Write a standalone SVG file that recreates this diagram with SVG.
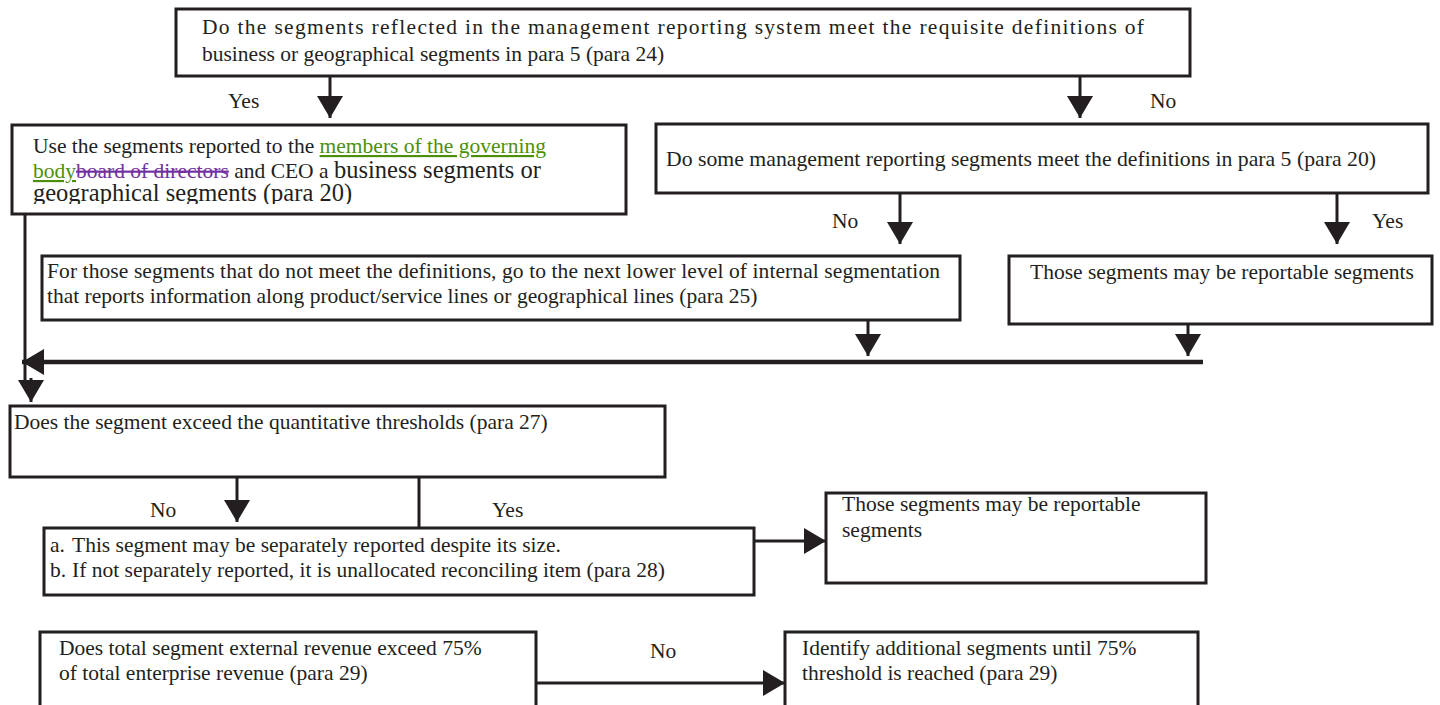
<svg xmlns="http://www.w3.org/2000/svg" width="1440" height="705" viewBox="0 0 1440 705">
<style>
.box{fill:#fff;stroke:#231f20;stroke-width:3}
.t{font-family:"Liberation Serif","Times New Roman",serif;font-size:21.5px;fill:#231f20}
.big{font-size:24.5px}
.c{stroke:#231f20;stroke-width:3;fill:none}
.thick{stroke:#231f20;stroke-width:4.5;fill:none}
.ins{fill:#4e8f0a;text-decoration:underline}
.del{fill:#7030a0;text-decoration:line-through}
</style>
<defs>
<marker id="ah" markerUnits="userSpaceOnUse" markerWidth="24" markerHeight="26" refX="22" refY="13" orient="auto"><path d="M0,0 L22,13 L0,26 z" fill="#231f20"/></marker>
<clipPath id="clip2"><rect x="14" y="127" width="610" height="77"/></clipPath>
</defs>
<g id="connectors">
<line class="c" x1="330" y1="76" x2="330" y2="118" marker-end="url(#ah)"/>
<line class="c" x1="1080" y1="76" x2="1080" y2="118" marker-end="url(#ah)"/>
<line class="c" x1="900" y1="193" x2="900" y2="244" marker-end="url(#ah)"/>
<line class="c" x1="1337" y1="193" x2="1337" y2="244" marker-end="url(#ah)"/>
<line class="c" x1="868" y1="320" x2="868" y2="356" marker-end="url(#ah)"/>
<line class="c" x1="1188" y1="324" x2="1188" y2="356" marker-end="url(#ah)"/>
<line class="thick" x1="1203" y1="362" x2="22" y2="362" marker-end="url(#ah)"/>
<line class="c" x1="25" y1="214" x2="25" y2="380"/>
<line class="c" x1="31" y1="378" x2="31" y2="402" marker-end="url(#ah)"/>
<line class="c" x1="237" y1="477" x2="237" y2="522" marker-end="url(#ah)"/>
<polyline class="c" points="419,477 419,541 826,541" marker-end="url(#ah)"/>
<line class="c" x1="536" y1="683" x2="785" y2="683" marker-end="url(#ah)"/>
<text class="t" x="228" y="108">Yes</text>
<text class="t" x="1150" y="108">No</text>
<text class="t" x="832" y="228">No</text>
<text class="t" x="1372" y="228">Yes</text>
<text class="t" x="150" y="517">No</text>
<text class="t" x="492" y="517">Yes</text>
<text class="t" x="650" y="658">No</text>
</g>
<g id="n1">
<rect class="box" x="176" y="9" width="1014" height="67"/>
<text class="t" x="202" y="34" textLength="942" lengthAdjust="spacing">Do the segments reflected in the management reporting system meet the requisite definitions of</text>
<text class="t" x="202" y="61">business or geographical segments in para 5 (para 24)</text>
</g>
<g id="n2">
<rect class="box" x="12" y="125" width="614" height="89"/>
<g clip-path="url(#clip2)">
<text class="t" x="33" y="153">Use the segments reported to the <tspan class="ins">members of the governing </tspan></text>
<text class="t" x="33" y="178"><tspan class="ins">body</tspan><tspan class="del">board of directors</tspan> and CEO a <tspan class="big">business segments or</tspan></text>
<text class="t big" x="33" y="201">geographical segments (para 20)</text>
</g>
</g>
<g id="n3">
<rect class="box" x="656" y="124" width="772" height="69"/>
<text class="t" x="666" y="166" textLength="710" lengthAdjust="spacingAndGlyphs">Do some management reporting segments meet the definitions in para 5 (para 20)</text>
</g>
<g id="n4">
<rect class="box" x="42" y="256" width="918" height="64"/>
<text class="t" x="47" y="278" textLength="893" lengthAdjust="spacing">For those segments that do not meet the definitions, go to the next lower level of internal segmentation</text>
<text class="t" x="47" y="303">that reports information along product/service lines or geographical lines (para 25)</text>
</g>
<g id="n5">
<rect class="box" x="1009" y="256" width="423" height="68"/>
<text class="t" x="1030" y="279">Those segments may be reportable segments</text>
</g>
<g id="n6">
<rect class="box" x="10" y="406" width="655" height="71"/>
<text class="t" x="14" y="429">Does the segment exceed the quantitative thresholds (para 27)</text>
</g>
<g id="n7">
<rect class="box" x="826" y="493" width="380" height="90"/>
<text class="t" x="842" y="511">Those segments may be reportable</text>
<text class="t" x="842" y="537">segments</text>
</g>
<g id="n8">
<rect class="box" x="44" y="528" width="710" height="67"/>
<text class="t" x="50" y="552">a.</text>
<text class="t" x="72" y="552">This segment may be separately reported despite its size.</text>
<text class="t" x="50" y="577">b.</text>
<text class="t" x="72" y="577">If not separately reported, it is unallocated reconciling item (para 28)</text>
</g>
<g id="n9">
<rect class="box" x="40" y="632" width="496" height="80"/>
<text class="t" x="59" y="655">Does total segment external revenue exceed 75%</text>
<text class="t" x="59" y="680">of total enterprise revenue (para 29)</text>
</g>
<g id="n10">
<rect class="box" x="785" y="632" width="413" height="80"/>
<text class="t" x="802" y="655">Identify additional segments until 75%</text>
<text class="t" x="802" y="680">threshold is reached (para 29)</text>
</g>
</svg>
